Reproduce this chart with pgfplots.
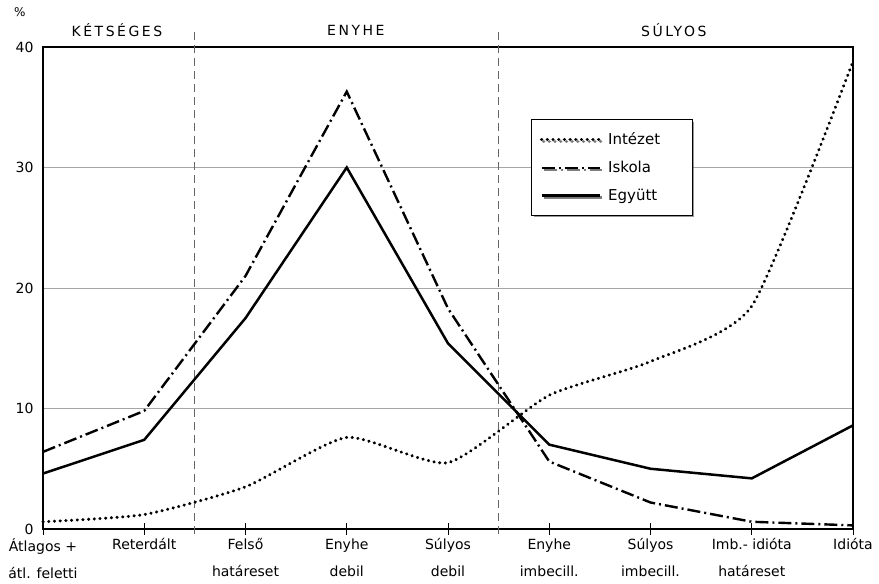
\documentclass[border=0pt]{standalone}
\usepackage{pgfplots}
\pgfplotsset{compat=1.18}
\usetikzlibrary{shadows}
\usepackage{fontspec}
\setmainfont{DejaVu Sans}
\newfontfamily\spaced[LetterSpace=18]{DejaVu Sans}
\begin{document}
\begin{tikzpicture}
\begin{axis}[
  scale only axis,
  width=810pt, height=482pt,
  xmin=0, xmax=8, ymin=0, ymax=40,
  xtick={0,1,2,3,4,5,6,7,8},
  xticklabels={{Átlagos +\\átl. feletti},{Reterdált\\\phantom{x}},{Felső\\határeset},{Enyhe\\debil},{Súlyos\\debil},{Enyhe\\imbecill.},{Súlyos\\imbecill.},{Imb.- idióta\\határeset},{Idióta\\\phantom{x}}},
  xticklabel style={align=center, font=\fontsize{14}{27}\selectfont, text depth=0pt},
  ytick={0,10,20,30,40},
  yticklabel style={font=\fontsize{14}{16}\selectfont},
  /pgf/number format/assume math mode=true,
  xtick pos=bottom, ytick pos=left,
  tick align=center,
  major tick length=12pt,
  ytick style={draw=none},
  xtick style={black, line width=0.6pt},
  ymajorgrids, grid style={gray!70, line width=0.7pt},
  axis line style={line width=1.1pt},
  clip=false,
  legend style={at={(0.603,0.85)}, anchor=north west, font=\fontsize{15}{17}\selectfont,
    draw=black, line width=1pt, inner xsep=8pt, inner ysep=11pt, row sep=11pt,
    drop shadow={shadow xshift=2pt, shadow yshift=-2pt, fill=black!80}},
  legend cell align=left,
  legend image code/.code={\draw[#1] (0pt,0pt) -- (58pt,0pt);},
]
\draw[dashed, gray!80!black, line width=0.8pt, dash pattern=on 8pt off 5pt] (axis cs:1.5,-0.4) -- (axis cs:1.5,41.4);
\draw[dashed, gray!80!black, line width=0.8pt, dash pattern=on 8pt off 5pt] (axis cs:4.5,-0.4) -- (axis cs:4.5,41.4);

\addplot[black, line width=3.2pt, line cap=round, dash pattern=on 0.2pt off 5.5pt, smooth, tension=0.35]
 coordinates {(0,0.6) (1,1.2) (2,3.5) (3,7.6) (4,5.5) (5,11.1) (6,13.9) (7,18.5) (8,38.8)};
\addlegendentry{\hspace*{5pt}Intézet\hspace*{22pt}}
\addplot[black, line width=2.4pt, dash pattern=on 13pt off 4pt on 2pt off 4pt]
 coordinates {(0,6.4) (1,9.8) (2,21.0) (3,36.3) (4,18.3) (5,5.6) (6,2.2) (7,0.6) (8,0.3)};
\addlegendentry{\hspace*{5pt}Iskola}
\addplot[black, line width=2.5pt]
 coordinates {(0,4.6) (1,7.4) (2,17.5) (3,30.0) (4,15.4) (5,7.0) (6,5.0) (7,4.2) (8,8.6)};
\addlegendentry{\hspace*{5pt}Együtt}

\node[font=\spaced\fontsize{14}{16}\selectfont] at (axis cs:0.73,41.4) {KÉTSÉGES};
\node[font=\spaced\fontsize{14}{16}\selectfont] at (axis cs:3.09,41.4) {ENYHE};
\node[font=\spaced\fontsize{14}{16}\selectfont] at (axis cs:6.23,41.4) {SÚLYOS};
\node[font=\fontsize{12}{14}\selectfont] at (axis cs:-0.23,42.9) {\%};

\coordinate (ll) at (rel axis cs:0,0);
\coordinate (ur) at (rel axis cs:1,1);
\end{axis}
\pgfresetboundingbox
\path ([shift={(-43pt,-55pt)}]ll) rectangle ([shift={(26pt,47pt)}]ur);
\end{tikzpicture}
\end{document}
